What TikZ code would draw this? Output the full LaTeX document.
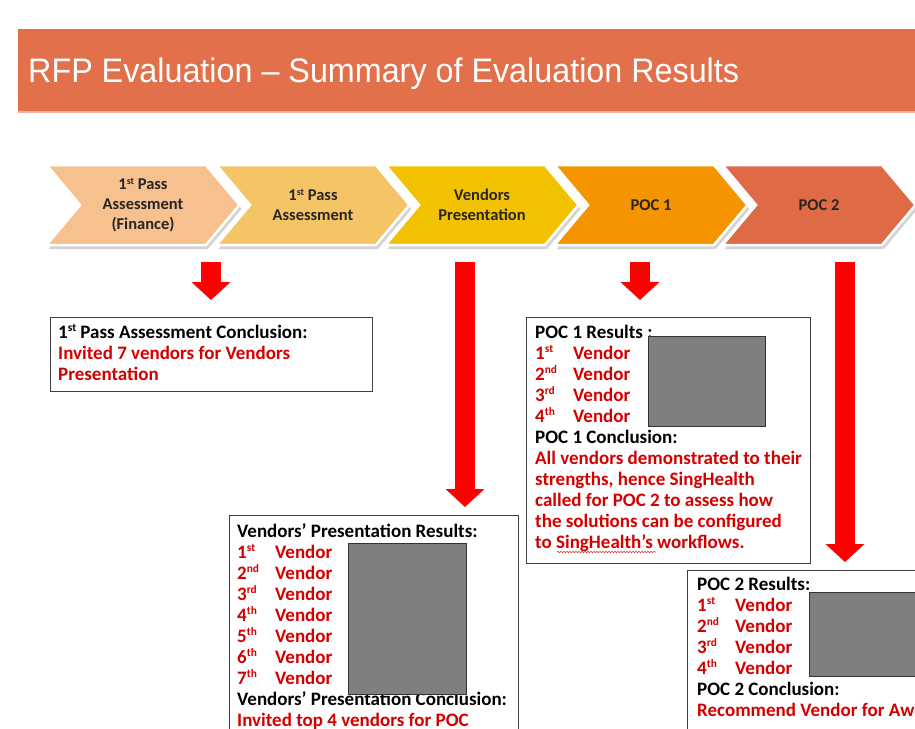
\documentclass[tikz,border=0pt]{standalone}
\usepackage{fontspec}
\setmainfont{Carlito}
\newfontfamily\titlefont[FakeStretch=0.95]{Liberation Sans}
\usetikzlibrary{shapes.symbols,shadows,arrows.meta,decorations.pathmorphing}
\definecolor{title_orange}{HTML}{E2704A}
\definecolor{title_line}{HTML}{F4B09A}
\definecolor{chev_one}{HTML}{F7C08F}
\definecolor{chev_two}{HTML}{F5C466}
\definecolor{chev_three}{HTML}{F2C200}
\definecolor{chev_four}{HTML}{F39400}
\definecolor{chev_five}{HTML}{DE6B45}
\definecolor{chev_text}{HTML}{262626}
\definecolor{box_grey}{HTML}{404040}
\definecolor{mask_grey}{HTML}{7F7F7F}
\definecolor{mask_edge}{HTML}{333333}
\definecolor{red_arrow}{HTML}{FF0000}
\definecolor{red_txt}{HTML}{D40000}
\newcommand{\sups}[1]{\raisebox{0.33em}{\scalebox{0.6}{#1}}}
\newcommand{\redtxt}[1]{\textcolor{red_txt}{#1}}
\newcommand{\vendorrank}[2]{\redtxt{\makebox[38pt][l]{#1\sups{#2}}Vendor}}

\begin{document}
\begin{tikzpicture}[x=1pt,y=-1pt,>=stealth,
    chevron/.style={signal, signal to=east, signal from=west, signal pointer angle=100,
        minimum width=193pt, minimum height=80pt, draw=white, line width=2.5pt,
        drop shadow={opacity=0.35, shadow xshift=2pt, shadow yshift=-4pt},
        font=\fontsize{16.5}{20}\selectfont\bfseries, text=chev_text, align=center, inner sep=0pt},
    resbox/.style={draw=box_grey, line width=1.3pt, fill=white, anchor=north west, inner sep=0pt},
    txt/.style={inner sep=0pt, anchor=base west, align=left, font=\fontsize{19}{21}\selectfont\bfseries},
    bigarrow/.style={red_arrow, line width=20pt, -{Triangle[width=38pt,length=18pt]}},
    maskbox/.style={fill=mask_grey, draw=mask_edge, line width=1pt}]

    \useasboundingbox (0,0) rectangle (915,728);
    \clip (0,0) rectangle (915,728);

    % Bandeau du titre
    \fill[title_orange] (18,29) rectangle (915,112);
    \draw[title_line, line width=1.5pt] (18,112) -- (915,112);
    \node[anchor=base west, inner sep=0pt, text=white, font=\titlefont\fontsize{34}{40}\selectfont] (title) at (28,82) {RFP Evaluation – Summary of Evaluation Results};

    % Les étapes
    \node[chevron, fill=chev_one] (ch1) at (143,205) {1\sups{st} Pass\\Assessment\\(Finance)};
    \node[chevron, fill=chev_two] (ch2) at (313,205) {1\sups{st} Pass\\Assessment};
    \node[chevron, fill=chev_three] (ch3) at (482,205) {Vendors\\Presentation};
    \node[chevron, fill=chev_four] (ch4) at (651,205) {POC 1};
    \node[chevron, fill=chev_five] (ch5) at (819,205) {POC 2};

    % Les cadres des résultats
    \node[resbox, minimum width=322pt, minimum height=74pt] (concl1) at (50,317) {};
    \node[resbox, minimum width=284pt, minimum height=246pt] (poc1) at (526,317) {};
    \node[resbox, minimum width=289pt, minimum height=230pt] (pres) at (229,515) {};
    \node[resbox, minimum width=250pt, minimum height=180pt] (poc2) at (687,570) {};

    % Départs des flèches
    \coordinate (a1) at (211,262);
    \coordinate (a2) at (465,262);
    \coordinate (a3) at (640,262);
    \coordinate (a4) at (845,262);

    % Les flèches rouges
    \draw[bigarrow, shorten >=17pt] (a1) -- (a1 |- concl1.north);
    \draw[bigarrow, shorten >=8pt] (a2) -- (a2 |- pres.north);
    \draw[bigarrow, shorten >=17pt] (a3) -- (a3 |- poc1.north);
    \draw[bigarrow, shorten >=8pt] (a4) -- (a4 |- poc2.north);

    % Les textes (ancrés sur la dernière ligne)
    \node[txt] (t1) at (58,380) {1\sups{st} Pass Assessment Conclusion:\\
        \redtxt{Invited 7 vendors for Vendors}\\
        \redtxt{Presentation}};
    \node[txt] (t2) at (535,548) {POC 1 Results :\\
        \vendorrank{1}{st}\\ \vendorrank{2}{nd}\\ \vendorrank{3}{rd}\\ \vendorrank{4}{th}\\
        POC 1 Conclusion:\\
        \redtxt{All vendors demonstrated to their}\\
        \redtxt{strengths, hence SingHealth}\\
        \redtxt{called for POC 2 to assess how}\\
        \redtxt{the solutions can be configured}\\
        \redtxt{to SingHealth’s workflows.}};
    \node[txt] (t3) at (237,726) {Vendors’ Presentation Results:\\
        \vendorrank{1}{st}\\ \vendorrank{2}{nd}\\ \vendorrank{3}{rd}\\ \vendorrank{4}{th}\\
        \vendorrank{5}{th}\\ \vendorrank{6}{th}\\ \vendorrank{7}{th}\\
        Vendors’ Presentation Conclusion:\\
        \redtxt{Invited top 4 vendors for POC}};
    \node[txt] (t4) at (697,716) {POC 2 Results:\\
        \vendorrank{1}{st}\\ \vendorrank{2}{nd}\\ \vendorrank{3}{rd}\\ \vendorrank{4}{th}\\
        POC 2 Conclusion:\\
        \redtxt{Recommend Vendor for Award}};

    % Soulignement du correcteur
    \draw[red_txt!80, line width=0.6pt, decorate, decoration={snake, amplitude=0.7pt, segment length=3pt}] (557,552) -- (656,552);

    % Les zones masquées
    \draw[maskbox] (648,336) rectangle (765,426);
    \draw[maskbox] (348,543) rectangle (466,694);
    \draw[maskbox] (809,592) rectangle (930,676);
\end{tikzpicture}
\end{document}
